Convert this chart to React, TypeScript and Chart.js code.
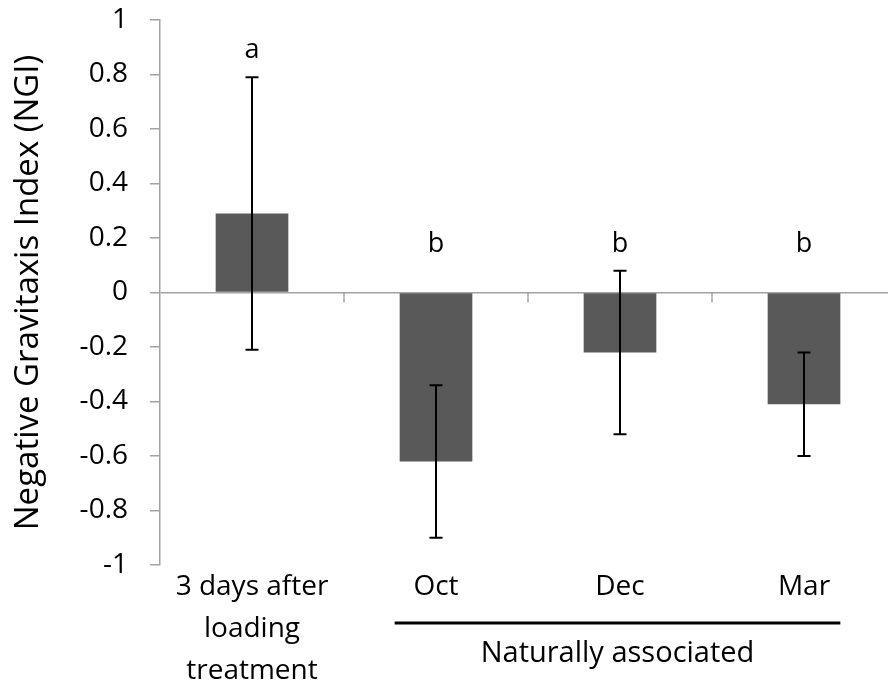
import { useEffect, useRef } from 'react';
import { Chart, registerables } from 'chart.js';

Chart.register(...registerables);

// Categories (first one wraps over three lines)
const categories: (string | string[])[] = [['3 days after', 'loading', 'treatment'], 'Oct', 'Dec', 'Mar'];
// Mean NGI per group and its error (±)
const meanNGI = [0.29, -0.62, -0.22, -0.41];
const errNGI = [0.5, 0.28, 0.3, 0.19];
// Significance letters per group
const sigLetters = ['a', 'b', 'b', 'b'];
// Categories sharing the "Naturally associated" bracket
const groupMembers = [1, 2, 3];
const groupLabel = 'Naturally associated';
const yTitle = 'Negative Gravitaxis Index (NGI)';
const yMin = -1;
const yMax = 1;
const yStep = 0.2;

const FONT = "'Open Sans', 'Liberation Sans', sans-serif";
const AXIS_GREY = '#a3a3a3';
const BAR_FILL = '#595959';

const annotate = {
  id: 'annotate',
  beforeDatasetsDraw(chart: any) {
    const { ctx, scales } = chart;
    const x = scales.x;
    const y = scales.y;
    const y0 = y.getPixelForValue(0);
    ctx.save();
    ctx.strokeStyle = AXIS_GREY;
    ctx.lineWidth = 1.5;
    // small category separator ticks hanging from the zero line
    for (let i = 0; i < categories.length - 1; i++) {
      const xb = (x.getPixelForValue(i) + x.getPixelForValue(i + 1)) / 2;
      ctx.beginPath();
      ctx.moveTo(xb, y0);
      ctx.lineTo(xb, y0 + 10);
      ctx.stroke();
    }
    ctx.restore();
  },
  afterDatasetsDraw(chart: any) {
    const { ctx, scales, chartArea } = chart;
    const x = scales.x;
    const y = scales.y;
    const meta = chart.getDatasetMeta(0);
    ctx.save();

    // error bars
    ctx.strokeStyle = '#000';
    ctx.lineWidth = 2;
    meanNGI.forEach((m, i) => {
      const cx = x.getPixelForValue(i);
      const top = y.getPixelForValue(m + errNGI[i]);
      const bot = y.getPixelForValue(m - errNGI[i]);
      ctx.beginPath();
      ctx.moveTo(cx, top);
      ctx.lineTo(cx, bot);
      ctx.moveTo(cx - 6.5, top);
      ctx.lineTo(cx + 6.5, top);
      ctx.moveTo(cx - 6.5, bot);
      ctx.lineTo(cx + 6.5, bot);
      ctx.stroke();
    });

    // significance letters, each group placed above its highest whisker
    ctx.fillStyle = '#000';
    ctx.font = `27px ${FONT}`;
    ctx.textAlign = 'center';
    ctx.textBaseline = 'alphabetic';
    meanNGI.forEach((_, i) => {
      let hi = 0;
      sigLetters.forEach((l, j) => {
        if (l === sigLetters[i]) hi = Math.max(hi, meanNGI[j] + errNGI[j]);
      });
      ctx.fillText(sigLetters[i], x.getPixelForValue(i), y.getPixelForValue(hi) - 19);
    });

    // bracket under the naturally associated groups
    const first = meta.data[groupMembers[0]];
    const last = meta.data[groupMembers[groupMembers.length - 1]];
    const left = first.x - first.width / 2 - 5;
    const right = last.x + last.width / 2;
    const lineY = chartArea.bottom + 58;
    ctx.lineWidth = 3;
    ctx.beginPath();
    ctx.moveTo(left, lineY);
    ctx.lineTo(right, lineY);
    ctx.stroke();
    ctx.font = `29px ${FONT}`;
    ctx.fillText(groupLabel, (left + right) / 2, lineY + 39);

    ctx.restore();
  },
};

export default function App() {
  const canvasRef = useRef<HTMLCanvasElement | null>(null);

  useEffect(() => {
    const canvas = canvasRef.current;
    if (!canvas) return;
    const chart = new Chart(canvas, {
      type: 'bar',
      data: {
        labels: categories,
        datasets: [
          {
            data: meanNGI,
            backgroundColor: BAR_FILL,
            borderWidth: 0,
            barPercentage: 0.395,
            categoryPercentage: 1,
          },
        ],
      },
      options: {
        animation: false,
        responsive: false,
        devicePixelRatio: 1,
        layout: { padding: { left: 0, right: 0, top: 20, bottom: 0 } },
        plugins: {
          legend: { display: false },
          tooltip: { enabled: false },
          title: { display: false },
        },
        scales: {
          x: {
            type: 'category',
            position: 'bottom',
            offset: true,
            border: { display: false },
            grid: { display: false, drawTicks: false },
            ticks: {
              color: '#000',
              padding: 1,
              maxRotation: 0,
              autoSkip: false,
              font: { family: FONT, size: 28, lineHeight: 1.5 },
            },
            afterFit: (scale: any) => {
              scale.height = 125;
            },
          },
          y: {
            type: 'linear',
            min: yMin,
            max: yMax,
            border: { display: true, color: AXIS_GREY, width: 1.5 },
            grid: {
              drawOnChartArea: true,
              drawTicks: true,
              tickLength: 10,
              lineWidth: 1.5,
              tickColor: AXIS_GREY,
              color: (c: any) => (c.tick && Math.abs(c.tick.value) < 1e-9 ? AXIS_GREY : 'rgba(0,0,0,0)'),
            },
            ticks: {
              stepSize: yStep,
              color: '#000',
              padding: 22,
              font: { family: FONT, size: 28 },
              callback: (v: any) => String(Math.round(Number(v) * 10) / 10),
            },
            title: {
              display: true,
              text: yTitle,
              color: '#000',
              padding: { top: 9, bottom: 0 },
              font: { family: FONT, size: 33 },
            },
            afterFit: (scale: any) => {
              scale.width = 160;
              scale.paddingTop = 0;
              scale.paddingBottom = 0;
            },
          },
        },
      },
      plugins: [annotate],
    });
    return () => chart.destroy();
  }, []);

  return (
    <div
      style={{
        position: 'absolute',
        left: 0,
        top: 0,
        width: 888,
        height: 690,
        overflow: 'hidden',
        background: '#fff',
      }}
    >
      <canvas ref={canvasRef} width={896} height={690} style={{ display: 'block' }} />
    </div>
  );
}
